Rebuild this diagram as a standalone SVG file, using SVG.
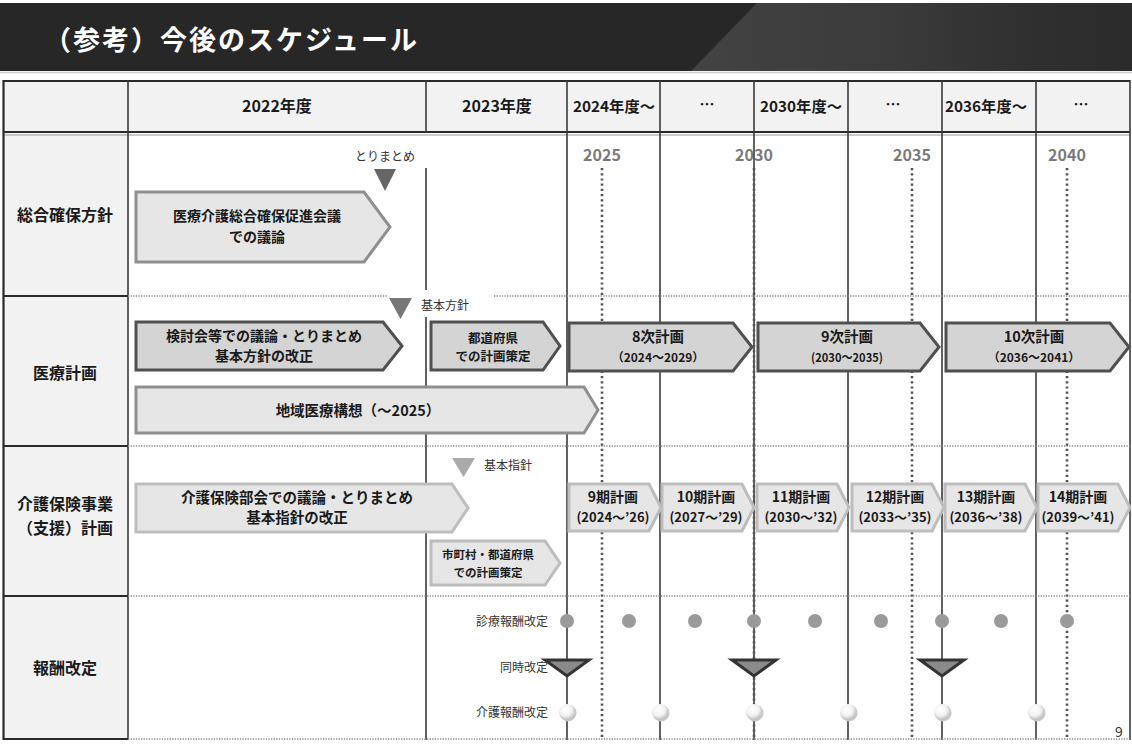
<svg xmlns="http://www.w3.org/2000/svg" width="1132" height="744" viewBox="0 0 1132 744">
<defs>
<linearGradient id="hdr" x1="0" y1="0" x2="1" y2="0">
<stop offset="0" stop-color="#434343"/>
<stop offset="0.45" stop-color="#3b3b3b"/>
<stop offset="0.75" stop-color="#303030"/>
<stop offset="1" stop-color="#2b2b2b"/>
</linearGradient>
<radialGradient id="wc" cx="0.42" cy="0.35" r="0.65">
<stop offset="0" stop-color="#ffffff"/>
<stop offset="0.6" stop-color="#f2f2f2"/>
<stop offset="1" stop-color="#bdbdbd"/>
</radialGradient>
<style>
.t{font-family:"Noto Sans CJK JP","Liberation Sans",sans-serif;fill:#1a1a1a}
.b{font-weight:700}
.m{text-anchor:middle}
.e{text-anchor:end}
.g{stroke:#3a3a3a;stroke-width:1.6;fill:none}
.gl{stroke:#2a2a2a;stroke-width:2.2;fill:none}
.dot{stroke:#8a8a8a;stroke-width:1.3;stroke-dasharray:1.3 1.3;fill:none}
.yd{stroke:#555;stroke-width:2.6;stroke-dasharray:2.2 3;fill:none}
.dk{fill:#d4d4d4;stroke:#505050;stroke-width:3;stroke-linejoin:miter}
.lt{fill:#e6e6e6;stroke:#8f8f8f;stroke-width:3}
.ll{fill:#e6e6e6;stroke:#bdbdbd;stroke-width:3}
.yr{font-family:"Noto Sans CJK JP","Liberation Sans",sans-serif;fill:#7a7a7a;font-weight:700;font-size:16px;text-anchor:middle}
.gc{fill:#9a9a9a}
.tri{fill:#8a8a8a;stroke:#333;stroke-width:3;stroke-linejoin:miter}
</style>
</defs>
<rect x="0" y="0" width="1132" height="744" fill="#ffffff"/>
<!-- title bar -->
<g id="title">
<rect x="0" y="3" width="1132" height="68" fill="#272727"/>
<polygon points="757,3 1132,3 1132,71 691,71" fill="url(#hdr)"/>
<line x1="0" y1="72.5" x2="1132" y2="72.5" stroke="#cfcfcf" stroke-width="1.5"/>
<text class="t b" x="44" y="50" font-size="27" letter-spacing="2" style="fill:#ffffff">（参考）今後のスケジュール</text>
</g>
<!-- table background -->
<g id="table-bg">
<rect x="3" y="80" width="1127" height="53" fill="#f2f2f2"/>
<rect x="3" y="133" width="125" height="607" fill="#f2f2f2"/>
</g>
<!-- year labels -->
<g id="years">
<text class="yr" x="602" y="161">2025</text>
<text class="yr" x="754" y="161">2030</text>
<text class="yr" x="912" y="161">2035</text>
<text class="yr" x="1067" y="161">2040</text>
</g>
<!-- grid / connectors -->
<g id="connectors">
<line class="gl" x1="3" y1="81" x2="1130" y2="81"/>
<line class="gl" x1="3" y1="132" x2="1130" y2="132"/>
<line x1="3" y1="135" x2="1130" y2="135" stroke="#9a9a9a" stroke-width="1"/>
<line class="gl" x1="3.5" y1="80" x2="3.5" y2="740"/>
<line class="g" x1="1130" y1="80" x2="1130" y2="740"/>
<line class="g" x1="128" y1="80" x2="128" y2="740"/>
<line class="g" x1="426" y1="80" x2="426" y2="133"/>
<line class="g" x1="426" y1="168" x2="426" y2="290"/>
<line class="g" x1="426" y1="317" x2="426" y2="740"/>
<line class="g" x1="567" y1="80" x2="567" y2="740"/>
<line class="g" x1="660" y1="80" x2="660" y2="740"/>
<line class="g" x1="754" y1="80" x2="754" y2="740"/>
<line class="g" x1="848" y1="80" x2="848" y2="740"/>
<line class="g" x1="942" y1="80" x2="942" y2="740"/>
<line class="g" x1="1036" y1="80" x2="1036" y2="740"/>
<!-- row separators -->
<line class="gl" x1="3" y1="296" x2="128" y2="296"/>
<line class="gl" x1="3" y1="446" x2="128" y2="446"/>
<line class="gl" x1="3" y1="596" x2="128" y2="596"/>
<line class="gl" x1="3" y1="739" x2="128" y2="739"/>
<line class="dot" x1="128" y1="296" x2="388" y2="296"/>
<line class="dot" x1="494" y1="296" x2="1130" y2="296"/>
<line class="dot" x1="128" y1="446" x2="1130" y2="446"/>
<line class="dot" x1="128" y1="596" x2="1130" y2="596"/>
<line class="dot" x1="128" y1="739" x2="1130" y2="739"/>
<!-- year dotted lines -->
<line class="yd" x1="602" y1="168" x2="602" y2="737"/>
<line class="yd" x1="754" y1="168" x2="754" y2="740"/>
<line class="yd" x1="912" y1="168" x2="912" y2="737"/>
<line class="yd" x1="1067" y1="168" x2="1067" y2="737"/>
</g>
<!-- header row -->
<g id="header">
<text class="t b m" x="277" y="112" font-size="16">2022年度</text>
<text class="t b m" x="497" y="112" font-size="16">2023年度</text>
<text class="t b m" x="614" y="112" font-size="15" textLength="82" lengthAdjust="spacingAndGlyphs">2024年度～</text>
<text class="t b m" x="707" y="110" font-size="15">…</text>
<text class="t b m" x="801" y="112" font-size="15" textLength="82" lengthAdjust="spacingAndGlyphs">2030年度～</text>
<text class="t b m" x="893" y="110" font-size="15">…</text>
<text class="t b m" x="986" y="112" font-size="15" textLength="82" lengthAdjust="spacingAndGlyphs">2036年度～</text>
<text class="t b m" x="1081" y="110" font-size="15">…</text>
</g>
<!-- row labels -->
<g id="row-labels">
<text class="t b m" x="65" y="221" font-size="16">総合確保方針</text>
<text class="t b m" x="65" y="379" font-size="16">医療計画</text>
<text class="t b m" x="65" y="510" font-size="16">介護保険事業</text>
<text class="t b m" x="65" y="534" font-size="16">（支援）計画</text>
<text class="t b m" x="65" y="674" font-size="16">報酬改定</text>
</g>
<!-- row 1 -->
<g id="milestone-torimatome">
<text class="t m" x="385" y="161" font-size="12" style="fill:#333">とりまとめ</text>
<polygon points="374,169 396,169 385,191" fill="#666"/>
</g>
<g id="box-sougou">
<path class="lt" d="M136,192 L364,192 L390,227 L364,262 L136,262 Z"/>
<text class="t b m" x="257" y="221" font-size="14">医療介護総合確保促進会議</text>
<text class="t b m" x="257" y="242" font-size="14">での議論</text>
</g>
<!-- row 2 -->
<g id="milestone-kihonhoushin">
<polygon points="389,298 412,298 400.5,319" fill="#777"/>
<text class="t" x="421" y="310" font-size="12" style="fill:#333">基本方針</text>
</g>
<g id="box-kentoukai">
<path class="dk" d="M136,322 L383,322 L402,346 L383,370 L136,370 Z"/>
<text class="t b m" x="264" y="341" font-size="14">検討会等での議論・とりまとめ</text>
<text class="t b m" x="264" y="361" font-size="14">基本方針の改正</text>
</g>
<g id="box-todoufuken">
<path class="dk" d="M431,322 L543,322 L560,346 L543,370 L431,370 Z"/>
<text class="t b m" x="493" y="343" font-size="12.5">都道府県</text>
<text class="t b m" x="493" y="361" font-size="12.5">での計画策定</text>
</g>
<g id="box-chiiki">
<path class="lt" d="M136,387 L584,387 L598,410 L584,433 L136,433 Z"/>
<text class="t b m" x="358" y="416" font-size="14.5">地域医療構想（～2025）</text>
</g>
<g id="box-8ji">
<path class="dk" d="M569,323 L733,323 L752,347 L733,371 L569,371 Z"/>
<text class="t b m" x="658" y="342" font-size="14.5">8次計画</text>
<text class="t b m" x="658" y="362" font-size="12">（2024～2029）</text>
</g>
<g id="box-9ji">
<path class="dk" d="M758,323 L920,323 L939,347 L920,371 L758,371 Z"/>
<text class="t b m" x="847" y="342" font-size="14.5">9次計画</text>
<text class="t b m" x="847" y="362" font-size="12" textLength="72" lengthAdjust="spacingAndGlyphs">(2030～2035)</text>
</g>
<g id="box-10ji">
<path class="dk" d="M946,323 L1110,323 L1129,347 L1110,371 L946,371 Z"/>
<text class="t b m" x="1034" y="342" font-size="14.5">10次計画</text>
<text class="t b m" x="1034" y="362" font-size="12">（2036～2041）</text>
</g>
<!-- row 3 -->
<g id="milestone-kihonshishin">
<polygon points="452,458 475,458 463.5,477" fill="#aaa"/>
<text class="t" x="484" y="470" font-size="12" style="fill:#333">基本指針</text>
</g>
<g id="box-kaigohoken">
<path class="ll" d="M136,484 L452,484 L468,508 L452,532 L136,532 Z"/>
<text class="t b m" x="297" y="503" font-size="14.5">介護保険部会での議論・とりまとめ</text>
<text class="t b m" x="297" y="523" font-size="14.5">基本指針の改正</text>
</g>
<g id="box-shichouson">
<path class="ll" d="M431,541 L545,541 L560,563 L545,585 L431,585 Z"/>
<text class="t b m" x="488" y="559" font-size="11.5">市町村・都道府県</text>
<text class="t b m" x="488" y="577" font-size="11.5">での計画策定</text>
</g>
<g id="box-9ki">
<path class="ll" d="M569,484 L649,484 L661,507.5 L649,531 L569,531 Z"/>
<text class="t b m" x="613" y="502" font-size="14">9期計画</text>
<text class="t b m" x="613" y="522" font-size="13">(2024～’26)</text>
</g>
<g id="box-10ki">
<path class="ll" d="M662,484 L742,484 L754,507.5 L742,531 L662,531 Z"/>
<text class="t b m" x="706" y="502" font-size="14">10期計画</text>
<text class="t b m" x="706" y="522" font-size="13">(2027～’29)</text>
</g>
<g id="box-11ki">
<path class="ll" d="M757,484 L837,484 L849,507.5 L837,531 L757,531 Z"/>
<text class="t b m" x="801" y="502" font-size="14">11期計画</text>
<text class="t b m" x="801" y="522" font-size="13">(2030～’32)</text>
</g>
<g id="box-12ki">
<path class="ll" d="M852,484 L932,484 L944,507.5 L932,531 L852,531 Z"/>
<text class="t b m" x="895" y="502" font-size="14">12期計画</text>
<text class="t b m" x="895" y="522" font-size="13">(2033～’35)</text>
</g>
<g id="box-13ki">
<path class="ll" d="M945,484 L1025,484 L1037,507.5 L1025,531 L945,531 Z"/>
<text class="t b m" x="986" y="502" font-size="14">13期計画</text>
<text class="t b m" x="986" y="522" font-size="13">(2036～’38)</text>
</g>
<g id="box-14ki">
<path class="ll" d="M1038,484 L1118,484 L1130,507.5 L1118,531 L1038,531 Z"/>
<text class="t b m" x="1078" y="502" font-size="14">14期計画</text>
<text class="t b m" x="1078" y="522" font-size="13">(2039～’41)</text>
</g>
<!-- row 4 -->
<g id="legend-labels">
<text class="t e" x="548" y="626" font-size="12" style="fill:#333">診療報酬改定</text>
<text class="t e" x="548" y="672" font-size="12" style="fill:#333">同時改定</text>
<text class="t e" x="548" y="717" font-size="12" style="fill:#333">介護報酬改定</text>
</g>
<g id="shinryou-marks">
<circle class="gc" cx="567" cy="621" r="7"/>
<circle class="gc" cx="629" cy="621" r="7"/>
<circle class="gc" cx="695" cy="621" r="7"/>
<circle class="gc" cx="754" cy="621" r="7"/>
<circle class="gc" cx="815" cy="621" r="7"/>
<circle class="gc" cx="881" cy="621" r="7"/>
<circle class="gc" cx="942" cy="621" r="7"/>
<circle class="gc" cx="1001" cy="621" r="7"/>
<circle class="gc" cx="1067" cy="621" r="7"/>
</g>
<g id="douji-marks">
<polygon class="tri" points="545,660 589,660 567,676"/>
<polygon class="tri" points="732,660 776,660 754,676"/>
<polygon class="tri" points="920,660 964,660 942,676"/>
</g>
<g id="kaigo-marks">
<circle cx="568" cy="713" r="8.5" fill="#c8c8c8"/><circle cx="567" cy="712" r="8" fill="url(#wc)"/>
<circle cx="661" cy="713" r="8.5" fill="#c8c8c8"/><circle cx="660" cy="712" r="8" fill="url(#wc)"/>
<circle cx="755" cy="713" r="8.5" fill="#c8c8c8"/><circle cx="754" cy="712" r="8" fill="url(#wc)"/>
<circle cx="849" cy="713" r="8.5" fill="#c8c8c8"/><circle cx="848" cy="712" r="8" fill="url(#wc)"/>
<circle cx="943" cy="713" r="8.5" fill="#c8c8c8"/><circle cx="942" cy="712" r="8" fill="url(#wc)"/>
<circle cx="1037" cy="713" r="8.5" fill="#c8c8c8"/><circle cx="1036" cy="712" r="8" fill="url(#wc)"/>
</g>
<text class="t m" x="1119" y="737" font-size="14" style="fill:#333">9</text>
</svg>
